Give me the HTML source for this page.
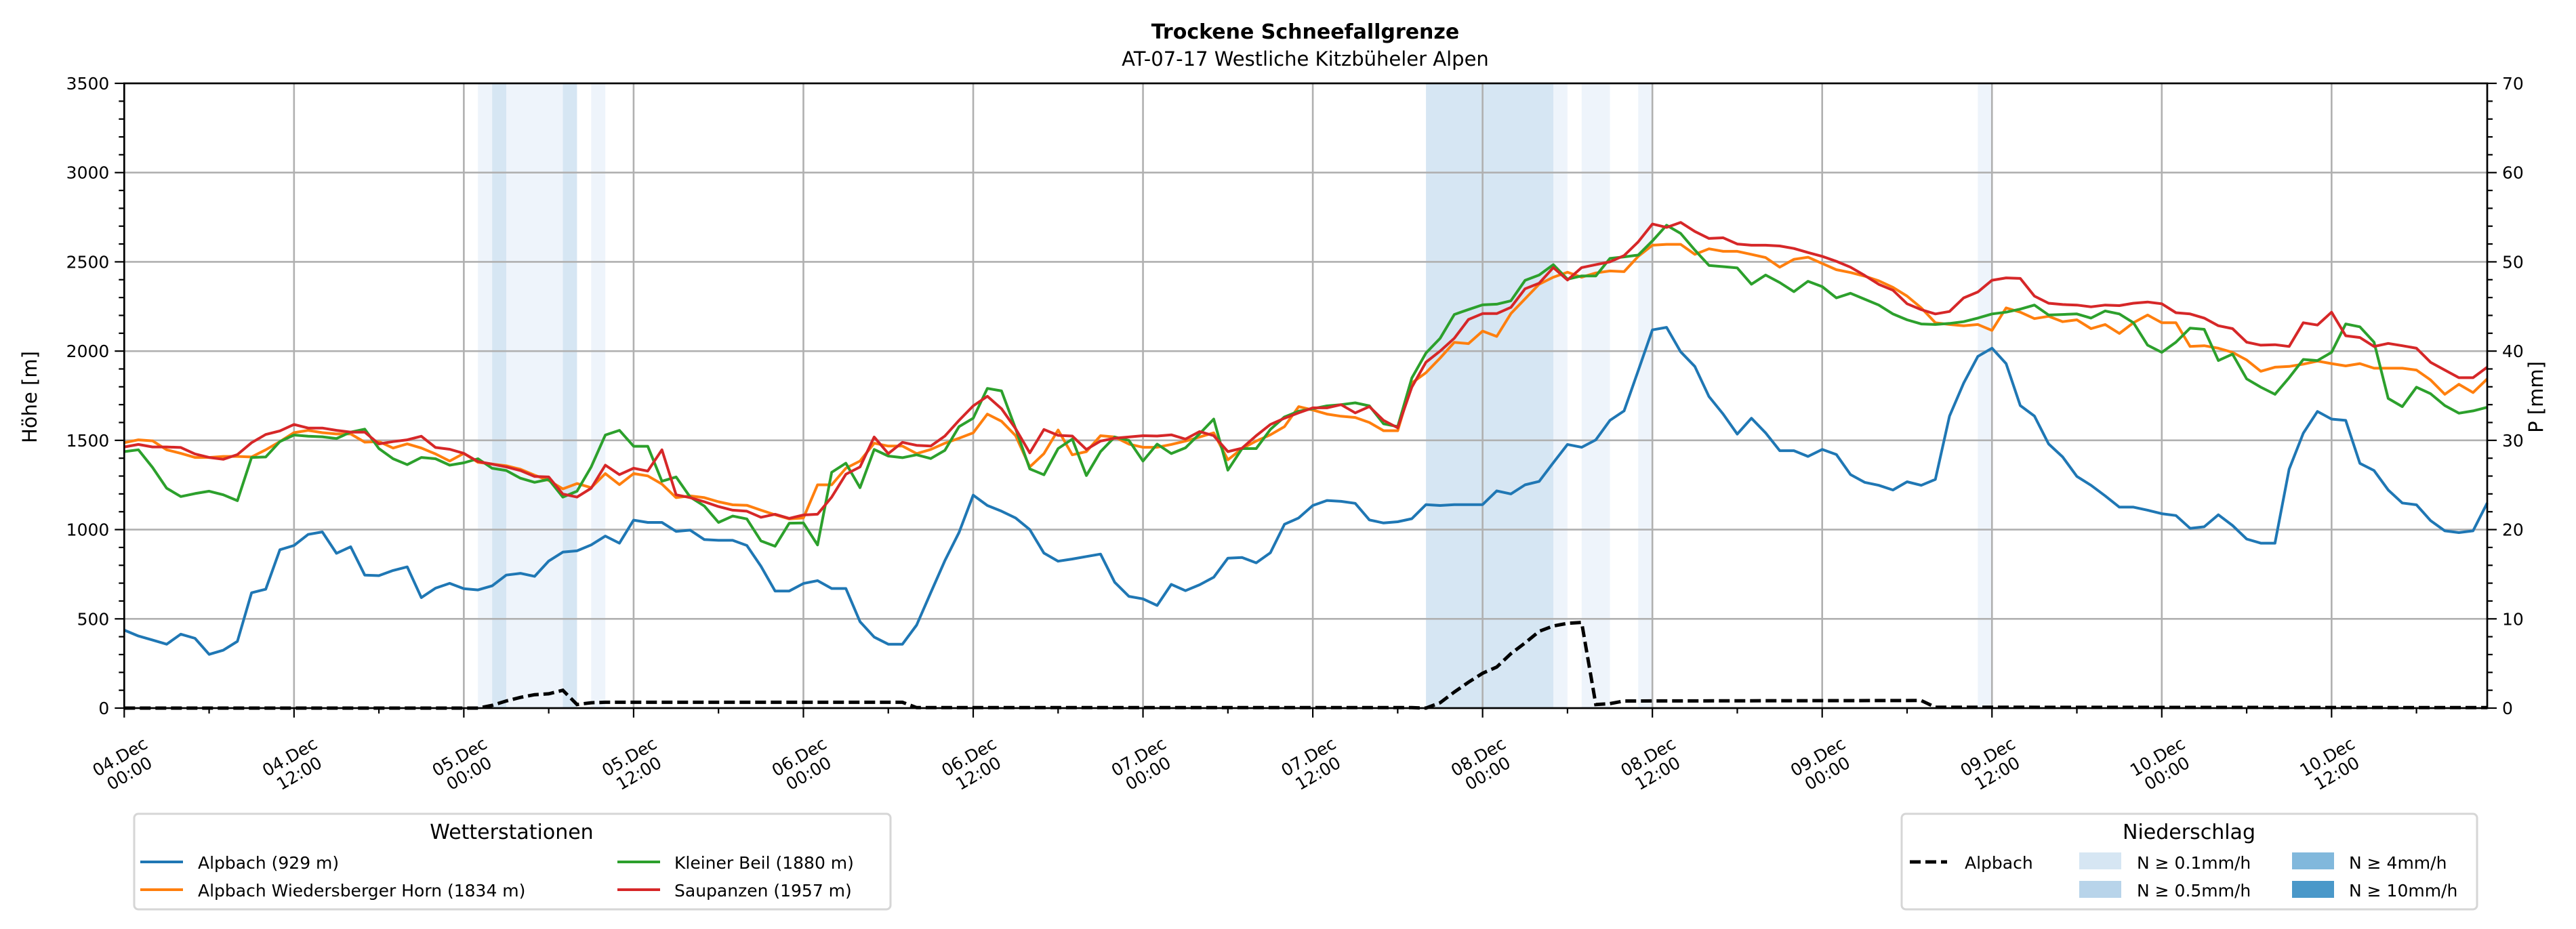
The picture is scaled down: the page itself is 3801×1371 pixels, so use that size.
<!DOCTYPE html>
<html><head><meta charset="utf-8"><style>
html,body{margin:0;padding:0;background:#fff;}
svg{display:block;font-family:"DejaVu Sans","Liberation Sans",sans-serif;}
</style></head><body>
<svg id="chart" width="3801" height="1371" viewBox="0 0 3801 1371" xmlns="http://www.w3.org/2000/svg">
<text x="1926" y="57" font-size="30" font-weight="bold" text-anchor="middle">Trockene Schneefallgrenze</text>
<text x="1926" y="97" font-size="29" text-anchor="middle">AT-07-17 Westliche Kitzbüheler Alpen</text>
<g id="bands"></g>
<g id="grid"></g>
<g id="series"></g>
<g id="axes"></g>
<text x="0" y="0" font-size="29" text-anchor="middle" transform="translate(54,586) rotate(-90)">Höhe [m]</text>
<text x="0" y="0" font-size="29" text-anchor="middle" transform="translate(3752,586) rotate(-90)">P [mm]</text>

<g>
<rect x="198" y="1201" width="1116" height="141" rx="6" fill="#fff" stroke="#d6d6d6" stroke-width="3"/>
<text x="755" y="1238" font-size="30" text-anchor="middle">Wetterstationen</text>
<g><line x1="207" y1="1272" x2="270" y2="1272" stroke="#1f77b4" stroke-width="4"/><text x="292" y="1282" font-size="25">Alpbach (929 m)</text></g>
<g><line x1="207" y1="1313" x2="270" y2="1313" stroke="#ff7f0e" stroke-width="4"/><text x="292" y="1323" font-size="25">Alpbach Wiedersberger Horn (1834 m)</text></g>
<g><line x1="911" y1="1272" x2="974" y2="1272" stroke="#2ca02c" stroke-width="4"/><text x="995" y="1282" font-size="25">Kleiner Beil (1880 m)</text></g>
<g><line x1="911" y1="1313" x2="974" y2="1313" stroke="#d62728" stroke-width="4"/><text x="995" y="1323" font-size="25">Saupanzen (1957 m)</text></g>
</g>

<g>
<rect x="2806" y="1201" width="849" height="141" rx="6" fill="#fff" stroke="#d6d6d6" stroke-width="3"/>
<text x="3230" y="1238" font-size="30" text-anchor="middle">Niederschlag</text>
<g><line x1="2818" y1="1272" x2="2873" y2="1272" stroke="#000" stroke-width="5" stroke-dasharray="16,7"/><text x="2899" y="1282" font-size="25">Alpbach</text></g>
<g><rect x="3068" y="1258" width="62" height="25" fill="#d6e6f3"/><text x="3153" y="1282" font-size="25">N ≥ 0.1mm/h</text></g>
<g><rect x="3068" y="1300" width="62" height="25" fill="#b8d4ea"/><text x="3153" y="1323" font-size="25">N ≥ 0.5mm/h</text></g>
<g><rect x="3382" y="1258" width="62" height="25" fill="#81b8dc"/><text x="3466" y="1282" font-size="25">N ≥ 4mm/h</text></g>
<g><rect x="3382" y="1300" width="62" height="25" fill="#4a98c9"/><text x="3466" y="1323" font-size="25">N ≥ 10mm/h</text></g>
</g>
</svg>
<script>
const alpbach = [437,404,381,358,414,391,301,324,374,646,666,887,911,973,987,867,904,745,742,771,791,619,672,699,669,662,685,745,755,738,824,874,881,914,964,924,1053,1040,1040,990,997,944,940,940,911,795,656,656,
698,714,670,670,484,398,358,358,465,647,826,984,1193,1135,1103,1065,1000,868,823,835,849,863,705,626,612,575,693,658,691,733,840,844,814,870,1030,1065,1135,1163,
1158,1147,1054,1037,1044,1061,1140,1135,1140,1140,1140,1217,1200,1251,1270,1375,1477,1461,1503,1612,1665,1891,2119,2133,1996,1914,1745,1647,1535,1624,1542,1442,1442,1410,1449,1421,
1308,1265,1248,1222,1268,1248,1281,1636,1821,1970,2016,1930,1695,1636,1480,1407,1298,1248,1189,1126,1126,1109,1089,1079,1007,1016,1083,1023,947,924,924,1338,1540,1662,1619,1612,1371,1331,1222,1149,1139,1050,993,983,993,1149];
const wiedersberger = [1487,1503,1497,1447,1427,1404,1404,1410,1410,1407,1447,1493,1543,1556,1543,1536,1536,1490,1493,1457,1480,1457,1424,1384,1427,1377,1367,1358,1338,1305,1275,1228,1258,1235,1314,1252,1314,1301,1255,1179,1189,1179,1156,1139,1136,1109,1083,1060,
1065,1251,1251,1344,1384,1484,1468,1468,1426,1449,1484,1512,1542,1647,1607,1526,1351,1426,1558,1419,1437,1526,1519,1479,1461,1461,1477,1496,1519,1542,1391,1454,1496,1531,1577,1689,1670,1647,
1635,1628,1600,1554,1554,1821,1879,1961,2049,2042,2112,2082,2210,2293,2375,2414,2442,2414,2438,2449,2445,2531,2593,2598,2598,2542,2573,2559,2559,2542,2524,2470,2514,2526,2491,2456,
2440,2420,2394,2357,2308,2242,2159,2149,2142,2149,2116,2242,2218,2182,2195,2165,2175,2126,2149,2099,2159,2202,2159,2159,2026,2030,2016,1993,1950,1887,1910,1914,1927,1944,1930,1917,1930,1904,1904,1904,1894,1838,1758,1814,1768,1844];
const kleinerBeil = [1437,1447,1348,1232,1185,1202,1215,1195,1162,1404,1407,1493,1530,1523,1520,1510,1546,1563,1454,1397,1364,1404,1397,1361,1374,1397,1344,1331,1288,1265,1281,1182,1215,1351,1530,1556,1467,1467,1271,1295,1182,1132,1040,1076,1060,937,907,1036,
1037,914,1321,1372,1235,1449,1412,1403,1419,1398,1444,1577,1624,1791,1777,1565,1340,1307,1454,1507,1303,1437,1519,1500,1384,1479,1426,1458,1537,1619,1333,1454,1454,1561,1631,1663,1677,1693,
1700,1710,1693,1593,1577,1849,1989,2072,2205,2233,2259,2263,2282,2396,2426,2484,2403,2421,2421,2519,2528,2538,2617,2705,2659,2566,2480,2473,2466,2375,2426,2384,2333,2391,2361,2298,
2324,2291,2258,2208,2175,2152,2149,2155,2165,2185,2208,2218,2235,2258,2202,2205,2208,2185,2225,2208,2159,2033,1993,2050,2129,2122,1947,1983,1844,1798,1758,1851,1953,1947,1993,2152,2136,2050,1735,1689,1798,1761,1695,1652,1665,1685];
const saupanzen = [1463,1477,1463,1463,1460,1424,1404,1394,1420,1487,1533,1553,1589,1569,1569,1556,1546,1546,1480,1493,1503,1523,1460,1450,1427,1381,1367,1351,1331,1298,1295,1199,1182,1232,1361,1308,1344,1328,1447,1195,1179,1156,1129,1109,1103,1069,1086,1063,
1082,1086,1182,1310,1351,1519,1426,1489,1472,1468,1524,1612,1693,1747,1677,1565,1430,1561,1528,1524,1449,1496,1512,1519,1526,1524,1531,1507,1549,1526,1437,1456,1526,1589,1624,1654,1682,1682,
1700,1654,1689,1612,1570,1798,1938,2000,2072,2177,2210,2210,2245,2349,2380,2468,2398,2468,2484,2500,2535,2612,2712,2693,2721,2670,2631,2635,2600,2593,2593,2589,2575,2552,2531,2503,
2470,2424,2374,2341,2265,2232,2208,2222,2298,2331,2397,2410,2407,2308,2268,2261,2258,2248,2258,2255,2268,2275,2265,2215,2208,2185,2142,2126,2050,2033,2036,2026,2159,2146,2218,2086,2076,2026,2043,2030,2016,1937,1894,1851,1851,1910];
const precipHours = [0,24,25,26,27,28,29,30,31,32,33,34,55,56,91,92,93,94,95,96,97,98,99,100,101,102,103,104,105,106,127,128,167];
const precipMm = [0,0,0,0.3,0.8,1.2,1.5,1.6,2.0,0.4,0.6,0.65,0.65,0.05,0.05,0,0.6,1.8,2.9,3.9,4.6,6.1,7.3,8.6,9.2,9.5,9.6,0.4,0.5,0.8,0.85,0.1,0.05];
const bandStart = [25,26,27,31,33,92,101,103,107,131];
const bandEnd = [26,27,31,32,34,101,102,105,108,132];
const bandLevel = ['weak','n01','weak','n01','weak','n01','weak','weak','weak','weak'];
const yTicks = [0,500,1000,1500,2000,2500,3000,3500];
const y2Ticks = [0,10,20,30,40,50,60,70];
const xTickHours = [0,12,24,36,48,60,72,84,96,108,120,132,144,156];
const xTickDates = ['04.Dec','04.Dec','05.Dec','05.Dec','06.Dec','06.Dec','07.Dec','07.Dec','08.Dec','08.Dec','09.Dec','09.Dec','10.Dec','10.Dec'];
const xTickTimes = ['00:00','12:00','00:00','12:00','00:00','12:00','00:00','12:00','00:00','12:00','00:00','12:00','00:00','12:00'];

const NS='http://www.w3.org/2000/svg';
const L=183.3, R=3670, T=123, B=1045, HMAX=167;
const xs = h => L + h*(R-L)/HMAX;
const ys = v => B - v*(B-T)/3500;
const ys2 = v => B - v*(B-T)/70;
function mk(parent,tag,attrs){const e=document.createElementNS(NS,tag);for(const k in attrs)e.setAttribute(k,attrs[k]);parent.appendChild(e);return e;}
const bands=document.getElementById('bands'), grid=document.getElementById('grid'), series=document.getElementById('series'), axes=document.getElementById('axes');
const bandColors={weak:'#eef4fb',n01:'#d6e6f3'};
for(let i=0;i<bandStart.length;i++){
  const r=mk(bands,'rect',{x:xs(bandStart[i]),y:T,width:xs(bandEnd[i])-xs(bandStart[i]),height:B-T,fill:bandColors[bandLevel[i]]});
  
  
}
yTicks.forEach(v=>{ if(v>0&&v<3500){const l=mk(grid,'line',{x1:L,x2:R,y1:ys(v),y2:ys(v),stroke:'#b0b0b0','stroke-width':2.6});
  
  }});
xTickHours.forEach(h=>{ if(h>0){const l=mk(grid,'line',{x1:xs(h),x2:xs(h),y1:T,y2:B,stroke:'#b0b0b0','stroke-width':2.6});
  
  }});
function poly(arr,color,name){
  const pts=arr.map((v,i)=>xs(i).toFixed(1)+','+ys(v).toFixed(1)).join(' ');
  const p=mk(series,'polyline',{points:pts,fill:'none',stroke:color,'stroke-width':4,'stroke-linejoin':'round'});
  
  
}
poly(alpbach,'#1f77b4','line-alpbach');
poly(wiedersberger,'#ff7f0e','line-wiedersberger-horn');
poly(kleinerBeil,'#2ca02c','line-kleiner-beil');
poly(saupanzen,'#d62728','line-saupanzen');
const pp=precipHours.map((h,i)=>xs(h).toFixed(1)+','+ys2(precipMm[i]).toFixed(1)).join(' ');
const pl=mk(series,'polyline',{points:pp,fill:'none',stroke:'#000','stroke-width':5,'stroke-dasharray':'16,7'});


// frame
const fr=mk(axes,'rect',{x:L,y:T,width:R-L,height:B-T,fill:'none',stroke:'#000','stroke-width':2.7});


// y ticks
for(let v=0;v<=3500;v+=100){const major=v%500===0;mk(axes,'line',{x1:L-(major?14:8),x2:L,y1:ys(v),y2:ys(v),stroke:'#000','stroke-width':2.2});}
yTicks.forEach(v=>{const t=mk(axes,'text',{x:L-22,y:ys(v)+9,'font-size':25,'text-anchor':'end'});t.textContent=v;
  
  });
for(let v=0;v<=70;v+=2){const major=v%10===0;mk(axes,'line',{x1:R,x2:R+(major?14:8),y1:ys2(v),y2:ys2(v),stroke:'#000','stroke-width':2.2});}
y2Ticks.forEach(v=>{const t=mk(axes,'text',{x:R+22,y:ys2(v)+9,'font-size':25,'text-anchor':'start'});t.textContent=v;
  
  });
for(let h=0;h<=HMAX;h+=6){const major=h%12===0;mk(axes,'line',{x1:xs(h),x2:xs(h),y1:B,y2:B+(major?14:8),stroke:'#000','stroke-width':2.2});}
xTickHours.forEach((h,i)=>{
  const g=mk(axes,'g',{transform:`translate(${xs(h).toFixed(1)},1128) rotate(-30)`});
  
  
  const t1=mk(g,'text',{x:0,y:-4,'font-size':25,'text-anchor':'middle'});t1.textContent=xTickDates[i];
  const t2=mk(g,'text',{x:0,y:24,'font-size':25,'text-anchor':'middle'});t2.textContent=xTickTimes[i];
});
</script>
</body></html>
